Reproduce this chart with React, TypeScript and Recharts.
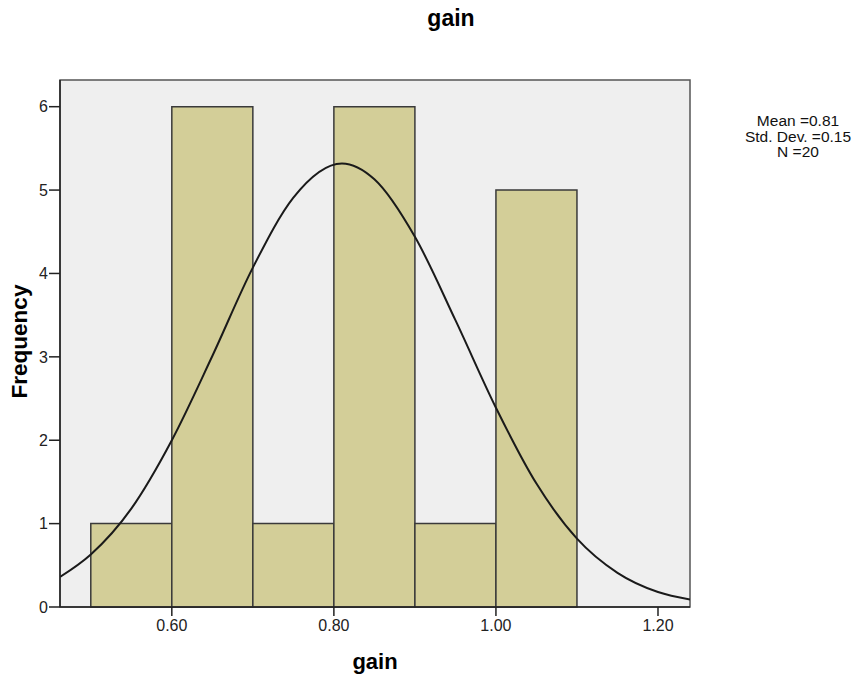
import React from 'react';
import { ComposedChart, Line, XAxis, YAxis, ReferenceArea, Label } from 'recharts';

// Histogram bins of "gain"
const binStarts = [0.5, 0.6, 0.7, 0.8, 0.9, 1.0];
const binEnds = [0.6, 0.7, 0.8, 0.9, 1.0, 1.1];
const frequencies = [1, 6, 1, 6, 1, 5];

// Normal curve, values
const curveX = [0.462, 0.5, 0.55, 0.6, 0.65, 0.7, 0.75, 0.81, 0.85, 0.9, 0.95, 1.0, 1.05, 1.1, 1.15, 1.2, 1.2395];
const curveY = [0.36, 0.63, 1.18, 2.0, 3.01, 4.07, 4.91, 5.32, 5.13, 4.44, 3.44, 2.39, 1.48, 0.82, 0.41, 0.18, 0.09];

const xTicks = [0.6, 0.8, 1.0, 1.2];
const yTicks = [0, 1, 2, 3, 4, 5, 6];
const xDomain = [0.462, 1.2395];
const yDomain = [0, 6.32];

const statsLines = ['Mean =0.81', 'Std. Dev. =0.15', 'N =20'];
const title = 'gain';
const xLabel = 'gain';
const yLabel = 'Frequency';

const curveData = curveX.map((x, i) => ({ x, y: curveY[i] }));

const FONT = '"Liberation Sans", Arial, sans-serif';

export default function App() {
  return (
    <div style={{ position: 'absolute', left: 0, top: 0, width: 860, height: 680, background: '#fff', fontFamily: FONT }}>
      <div style={{ position: 'absolute', left: 0, top: 5, width: 902, textAlign: 'center', fontSize: 23, fontWeight: 'bold', color: '#000' }}>
        {title}
      </div>
      <div style={{ position: 'absolute', left: 718, top: 113, width: 160, textAlign: 'center', fontSize: 15.5, lineHeight: '15.5px', color: '#111' }}>
        {statsLines.map((s) => (
          <div key={s}>{s}</div>
        ))}
      </div>
      <ComposedChart
        width={860}
        height={680}
        data={curveData}
        margin={{ top: 80, right: 170, bottom: 0, left: 0 }}
        style={{ position: 'absolute', left: 0, top: 0 }}
      >
        <XAxis
          dataKey="x"
          type="number"
          domain={xDomain}
          allowDataOverflow
          ticks={xTicks}
          tickFormatter={(v: number) => v.toFixed(2)}
          height={73}
          tickSize={9}
          tickMargin={4}
          axisLine={{ stroke: '#222', strokeWidth: 1.5 }}
          tickLine={{ stroke: '#222', strokeWidth: 1.5 }}
          tick={{ fill: '#222', fontSize: 16, fontFamily: FONT }}
        >
          <Label
            content={(props: any) => {
              const vb = props.viewBox || {};
              return (
                <text x={vb.x + vb.width / 2} y={669} textAnchor="middle" fontSize={22} fontWeight="bold" fontFamily={FONT} fill="#000">
                  {xLabel}
                </text>
              );
            }}
          />
        </XAxis>
        <YAxis
          type="number"
          domain={yDomain}
          allowDataOverflow
          ticks={yTicks}
          width={60}
          tickSize={11}
          tickMargin={1}
          axisLine={{ stroke: '#222', strokeWidth: 1.5 }}
          tickLine={{ stroke: '#222', strokeWidth: 1.5 }}
          tick={{ fill: '#222', fontSize: 16, fontFamily: FONT }}
        >
          <Label
            content={(props: any) => {
              const vb = props.viewBox || {};
              const cy = vb.y + vb.height / 2 - 2;
              return (
                <text x={27} y={cy} transform={`rotate(-90 27 ${cy})`} textAnchor="middle" fontSize={22.5} fontWeight="bold" fontFamily={FONT} fill="#000">
                  {yLabel}
                </text>
              );
            }}
          />
        </YAxis>
        <ReferenceArea
          x1={xDomain[0]}
          x2={xDomain[1]}
          y1={yDomain[0]}
          y2={yDomain[1]}
          fill="#efefef"
          fillOpacity={1}
          stroke="#555"
          strokeWidth={1.5}
        />
        {binStarts.map((s, i) => (
          <ReferenceArea
            key={s}
            x1={s}
            x2={binEnds[i]}
            y1={0}
            y2={frequencies[i]}
            fill="#d3ce98"
            fillOpacity={1}
            stroke="#3a3a3a"
            strokeWidth={1.5}
          />
        ))}
        <Line
          dataKey="y"
          type="monotone"
          stroke="#1a1a1a"
          strokeWidth={2}
          dot={false}
          activeDot={false}
          isAnimationActive={false}
        />
      </ComposedChart>
    </div>
  );
}
